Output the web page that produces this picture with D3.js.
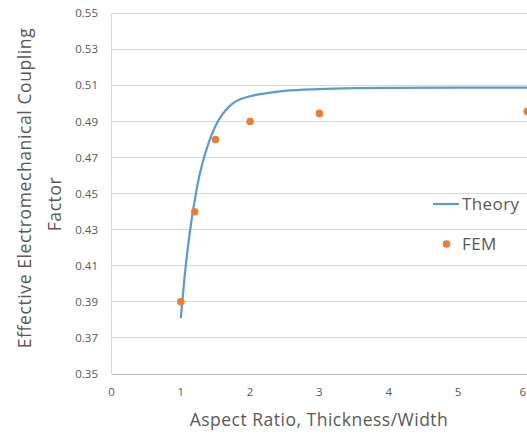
<!DOCTYPE html>
<html><head><meta charset="utf-8">
<script src="https://cdn.jsdelivr.net/npm/d3@7"></script>
<style>body{margin:0;background:#fff;overflow:hidden}svg{display:block}text{font-family:"Open Sans",sans-serif;fill:#595959}</style>
</head><body>
<svg id="c" width="527" height="435"></svg>
<script>
const theoryX = [1.0,1.05,1.1,1.15,1.2,1.25,1.3,1.4,1.5,1.6,1.7,1.8,2.0,2.2,2.5,3.0,3.5,4.0,5.0,6.0,7.0];
const theoryY = [0.381,0.402,0.4195,0.434,0.446,0.4566,0.465,0.478,0.4875,0.4939,0.4984,0.5013,0.504,0.5055,0.507,0.508,0.5085,0.5087,0.5088,0.5088,0.5088];
const femX = [1.0,1.2,1.5,2.0,3.0,6.0];
const femY = [0.390,0.440,0.480,0.490,0.4945,0.4955];
const yTicks = [0.35,0.37,0.39,0.41,0.43,0.45,0.47,0.49,0.51,0.53,0.55];
const xTicks = [0,1,2,3,4,5,6,7];

const svg = d3.select("#c");
const x = d3.scaleLinear().domain([0,7]).range([111.5,111.5+7*69.3]);
const y = d3.scaleLinear().domain([0.35,0.55]).range([374,13.3]);

// gridlines
svg.append("g").selectAll("line").data(yTicks).join("line")
  .attr("x1",x(0)).attr("x2",x(7)).attr("y1",d=>y(d)).attr("y2",d=>y(d))
  .attr("stroke",d=>d===0.35?"#bfbfbf":"#d9d9d9").attr("stroke-width",1).attr("shape-rendering","crispEdges");
svg.append("line").attr("x1",x(0)).attr("x2",x(0)).attr("y1",y(0.55)).attr("y2",y(0.35))
  .attr("stroke","#d9d9d9").attr("shape-rendering","crispEdges");

// y tick labels
svg.append("g").selectAll("text").data(yTicks).join("text")
  .attr("x",98).attr("y",d=>y(d)).attr("dy","0.35em").attr("text-anchor","end")
  .attr("font-size",11.5).text(d=>d.toFixed(2));
// x tick labels (the 6 sits on the window edge and is cut like in the reference)
svg.append("g").selectAll("text").data(xTicks.filter(d=>x(d)<520)).join("text")
  .attr("x",d=>x(d)).attr("y",392).attr("dy","0.35em").attr("text-anchor","middle")
  .attr("font-size",11.5).text(d=>d);
svg.append("text").attr("x",526).attr("y",392).attr("dy","0.35em").attr("text-anchor","end")
  .attr("font-size",11.5).text(xTicks[6]);

// theory line
const pts = theoryX.map((v,i)=>[v,theoryY[i]]);
svg.append("path").datum(pts)
  .attr("d",d3.line().x(d=>x(d[0])).y(d=>y(d[1])).curve(d3.curveMonotoneX))
  .attr("fill","none").attr("stroke","#5b9bd5").attr("stroke-width",2.2);

// FEM points
svg.append("g").selectAll("circle").data(femX.map((v,i)=>[v,femY[i]])).join("circle")
  .attr("cx",d=>x(d[0])).attr("cy",d=>y(d[1])).attr("r",3.8).attr("fill","#ed7d31");

// legend
svg.append("line").attr("x1",433).attr("x2",459).attr("y1",204).attr("y2",204)
  .attr("stroke","#5b9bd5").attr("stroke-width",2.2);
svg.append("text").attr("x",462).attr("y",204).attr("dy","0.35em").attr("font-size",17).attr("letter-spacing",0.4).text("Theory");
svg.append("circle").attr("cx",446.5).attr("cy",244).attr("r",3.8).attr("fill","#ed7d31");
svg.append("text").attr("x",462).attr("y",244).attr("dy","0.35em").attr("font-size",17).attr("letter-spacing",0.4).text("FEM");

// axis titles
svg.append("text").attr("x",319).attr("y",420).attr("dy","0.35em").attr("text-anchor","middle")
  .attr("font-size",17.5).attr("letter-spacing",0.5).text("Aspect Ratio, Thickness/Width");
svg.append("text").attr("transform","translate(25,188) rotate(-90)").attr("dy","0.35em").attr("text-anchor","middle")
  .attr("font-size",17.5).attr("letter-spacing",0.6).text("Effective Electromechanical Coupling");
svg.append("text").attr("transform","translate(55,204) rotate(-90)").attr("dy","0.35em").attr("text-anchor","middle")
  .attr("font-size",17.5).attr("letter-spacing",0.6).text("Factor");
</script>
</body></html>
